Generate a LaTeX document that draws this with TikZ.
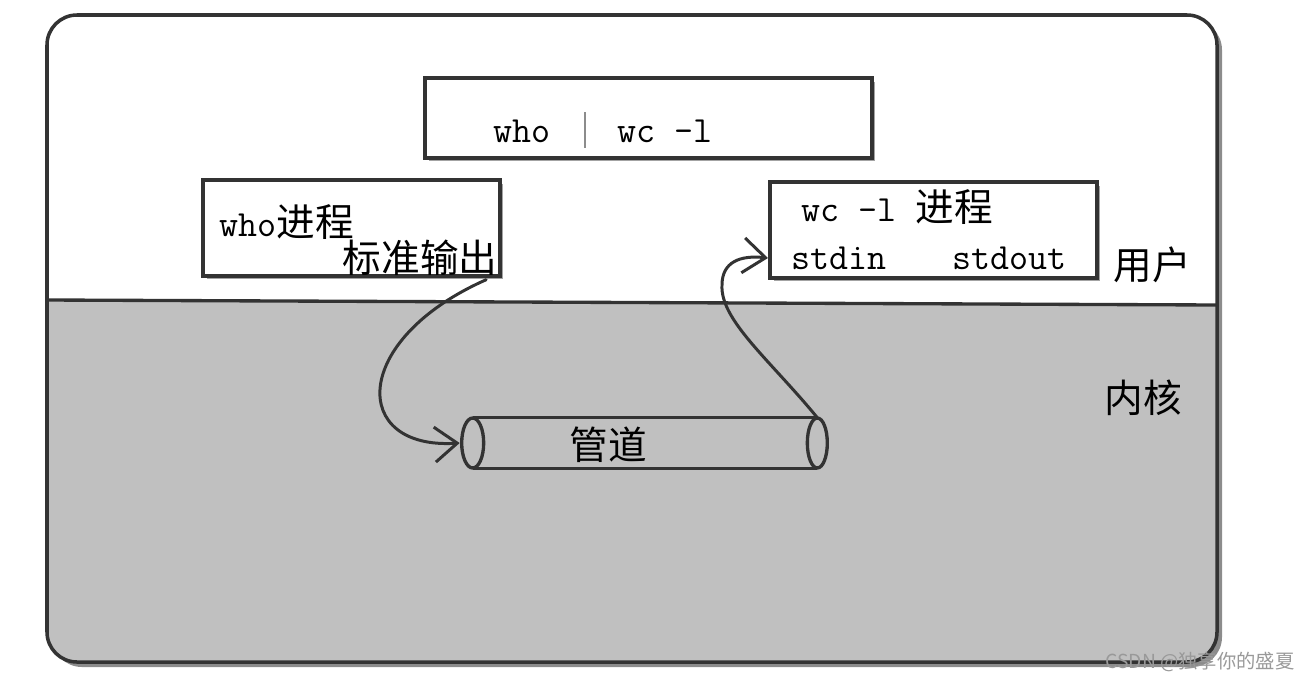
\documentclass[tikz,border=0pt]{standalone}
\usepackage{fontspec}
\newfontfamily\cjk{Noto Sans CJK SC}
\usetikzlibrary{arrows.meta,positioning,shadows}
\newcommand{\zh}[1]{{\cjk #1}}
\definecolor{kernelgray}{HTML}{C0C0C0}
\definecolor{inkgray}{HTML}{333333}

\begin{document}
\begin{tikzpicture}[
  x=0.02cm, y=-0.02cm,
  font=\ttfamily\fontsize{21}{25}\selectfont,
  every node/.style={inner sep=2pt},
  frame/.style={draw=inkgray, line width=2pt, rounded corners=0.6cm},
  procbox/.style={draw=inkgray, line width=1.9pt, fill=white, inner sep=0pt,
                  drop shadow={shadow xshift=0.07cm, shadow yshift=-0.07cm,
                               fill=black!60, opacity=0.6}},
  lbl/.style={font=\cjk\fontsize{22}{26}\selectfont},
  bar/.style={draw=black!45, line width=0.8pt},
  pipeline/.style={draw=inkgray, line width=1.9pt},
  flow/.style={-{Straight Barb[length=0.45cm, width=0.7cm]}, draw=black!80,
               line width=1.7pt, line cap=round},
  wmark/.style={font=\cjk\fontsize{11}{13}\selectfont, text=black!40},
]
\useasboundingbox (0,0) rectangle (1311,680);

% ---- frame: user space above, kernel below ----
\fill[black!45, rounded corners=0.6cm] (52,20) rectangle (1222,667);
\fill[white, rounded corners=0.6cm] (47,15) rectangle (1217,662);
\begin{scope}
  \clip[rounded corners=0.6cm] (47,15) rectangle (1217,662);
  \fill[kernelgray] (47,300) -- (1217,305) -- (1217,662) -- (47,662) -- cycle;
\end{scope}
\draw[pipeline] (47,300) -- (1217,305);
\draw[frame] (47,15) rectangle (1217,662);

% ---- the command line ----
\node[procbox, minimum width=8.94cm, minimum height=1.6cm] (cmdbox) at (648.5,118) {};
\node (who) at (522,131) {who};
\node (wcl) at (665,131) {wc -l};
\draw[bar] (585,112) -- (585,148);

% ---- processes ----
\node[procbox, minimum width=5.94cm, minimum height=1.92cm] (whobox) at (351.5,228) {};
\node[anchor=west] (whoproc) at (216,222) {who\zh{\fontsize{22}{26}\selectfont 进程}};
\node[lbl] (whoout) at (420,258) {标准输出};

\node[procbox, minimum width=6.54cm, minimum height=1.92cm] (wcbox) at (933.5,230) {};
\node[anchor=west] (wcproc) at (798,207) {wc -l \zh{\fontsize{22}{26}\selectfont 进程}};
\node[anchor=west] (stdin) at (788,258) {stdin};
\node[right=1.15cm of stdin] (stdout) {stdout};

\node[lbl] (user) at (1152,265) {用户};
\node[lbl] (kernel) at (1143,398) {内核};

% ---- the pipe ----
\node[minimum width=6.88cm, minimum height=1cm, inner sep=0pt] (pipe) at (645,443) {};
\draw[pipeline] (pipe.north west) -- (pipe.north east);
\draw[pipeline] (pipe.south west) -- (pipe.south east);
\draw[pipeline] (pipe.west) ellipse [x radius=0.22cm, y radius=0.5cm];
\draw[pipeline] (pipe.east) ellipse [x radius=0.2cm, y radius=0.5cm];
\node[lbl] (pipename) at (608,445) {管道};

% ---- data flow ----
\draw[flow] ([xshift=-0.3cm]whoout.south east)
  .. controls (350,340) and (350,450) .. ([xshift=-0.26cm]pipe.west);
\draw[flow] (pipe.north east)
  .. controls (770,360) and (720,320) .. (722,285)
  .. controls (722,262) and (740,255) .. ([xshift=-0.4cm]stdin.west);

\node[wmark] (csdn) at (1200,662) {CSDN @独享你的盛夏};
\end{tikzpicture}
\end{document}
